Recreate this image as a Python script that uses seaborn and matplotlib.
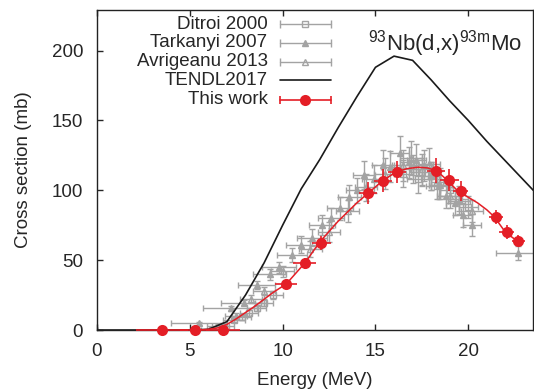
import pandas as pd
import matplotlib
matplotlib.use('Agg')
import matplotlib.pyplot as plt
import seaborn as sns
import numpy as np

# TENDL2017 evaluation
tendl_e = [0, 5.0, 6.0, 7.0, 8.0, 9.0, 10.0, 11.0, 12.0, 13.0, 14.0, 15.0, 16.0, 17.0, 18.0, 19.0, 20.0, 21.0, 22.0, 23.0, 23.5]
tendl_s = [0, 0, 0.5, 6, 25, 48, 75, 101, 122, 145, 167, 188, 196, 193, 179, 164, 150, 135, 121, 107, 100]

# this work
work_e = [3.48, 5.27, 6.79, 10.2, 11.18, 12.08, 14.6, 15.4, 16.17, 18.26, 18.98, 19.59, 21.49, 22.08, 22.69]
work_de = [1.4, 0.8, 0.9, 0.6, 0.6, 0.5, 0.5, 0.5, 0.5, 0.5, 0.5, 0.4, 0.4, 0.4, 0.35]
work_s = [0, 0, 0, 32.7, 47.8, 62.1, 98, 107, 113, 114, 107.5, 99.6, 81, 70, 64]
work_ds = [0, 0, 0, 3, 4, 5, 8, 8, 8, 9, 8, 7, 5, 5, 4]

# smooth fit through this work
fit_e = [5.5, 6.0, 6.5, 7.0, 7.5, 8.0, 8.5, 9.0, 9.5, 10.2, 11.2, 12.0, 13.0, 14.0, 14.7, 15.4, 16.1, 16.7, 17.3, 17.8, 18.3, 18.8, 19.4, 20.0, 20.5, 21.0, 21.4, 22.0, 22.6]
fit_s = [0, 0.5, 1.5, 4, 8, 12.5, 17, 22, 27, 33, 48, 63, 78, 91, 99, 107, 113, 115.5, 116.5, 116, 114, 108, 100, 95, 91, 86, 81, 70, 64]

# Ditroi 2000
dit_e = [6.2, 6.8, 7.4, 7.8, 8.2, 8.6, 9.0, 9.5, 16.5, 17.0, 17.5, 18.0, 18.5, 19.0, 19.5, 20.0, 17.3, 18.3]
dit_de = [0.6, 0.6, 0.6, 0.5, 0.5, 0.5, 0.5, 0.5, 0.5, 0.5, 0.5, 0.5, 0.5, 0.5, 0.5, 0.5, 0.6, 0.6]
dit_s = [0, 3, 7, 9, 12, 15.5, 19.6, 25, 112, 115, 113, 110, 106, 100, 94, 88, 108, 103]
dit_ds = [0.5, 1, 1.5, 1.5, 2, 2, 2.5, 3, 10, 10, 10, 10, 10, 9, 9, 8, 10, 9]

# Tarkanyi 2007
tar_e = [0, 5.5, 7.2, 7.9, 8.6, 9.3, 9.8, 10.5, 11.0, 11.6, 12.1, 12.6, 13.1, 13.6, 14.0, 14.4, 14.9, 15.4, 15.8, 16.3, 16.8, 17.2, 17.6, 18.0, 18.4, 18.8, 19.3, 19.7, 20.2, 22.7]
tar_de = [0, 1.5, 1.5, 1.2, 1.0, 0.9, 0.9, 0.8, 0.8, 0.8, 0.7, 0.7, 0.7, 0.6, 0.6, 0.6, 0.6, 0.6, 0.5, 0.5, 0.5, 0.5, 0.5, 0.5, 0.5, 0.5, 0.5, 0.5, 0.5, 1.2]
tar_s = [0, 4.8, 15.5, 19.6, 32, 40, 45, 54, 61, 66, 75, 80, 87, 95, 100, 111, 108, 118, 117, 127, 120, 122, 118, 110, 104, 96, 91, 82, 75, 55]
tar_ds = [0, 1, 2, 2, 3, 4, 4, 5, 6, 6, 7, 7, 8, 9, 9, 10, 10, 11, 11, 12, 11, 11, 11, 10, 10, 9, 9, 8, 8, 5]

# Avrigeanu 2013
avr_e = [6.5, 7.5, 8.3, 9.0, 10.0, 11.5, 12.5, 13.5, 14.5, 15.5, 16.5, 17.5, 18.5, 19.5, 20.2, 16.9, 17.9, 19.0]
avr_de = [0.6, 0.6, 0.6, 0.6, 0.6, 0.6, 0.6, 0.6, 0.6, 0.6, 0.6, 0.6, 0.6, 0.6, 0.6, 0.6, 0.6, 0.6]
avr_s = [3, 10, 22, 28, 42, 58, 70, 85, 102, 112, 118, 115, 104, 92, 85, 123, 119, 96]
avr_ds = [1, 2, 3, 3, 4, 6, 7, 8, 10, 11, 11, 11, 10, 9, 8, 12, 11, 9]

labels = ['Ditroi 2000', 'Tarkanyi 2007', 'Avrigeanu 2013', 'TENDL2017', 'This work']

sns.set_style('ticks')
plt.rcParams['font.family'] = ['Liberation Sans', 'DejaVu Sans']
plt.rcParams['mathtext.fontset'] = 'custom'
plt.rcParams['mathtext.rm'] = 'Liberation Sans'

gray = '#a3a3a3'
red = '#e41e26'
dark = '#1a1a1a'
fs = 13.5

fig = plt.figure(figsize=(5.34, 3.9), dpi=100)
ax = fig.add_axes([0.1816, 0.1538, 0.817, 0.8205])

ebkw = dict(ls='none', color=gray, ecolor=gray, elinewidth=1, capsize=2.5, capthick=1, markersize=4.5, zorder=2)
ax.errorbar(dit_e, dit_s, xerr=dit_de, yerr=dit_ds, marker='s', mfc='none', **ebkw)
ax.errorbar(avr_e, avr_s, xerr=avr_de, yerr=avr_ds, marker='^', mfc='none', **ebkw)
ax.errorbar(tar_e, tar_s, xerr=tar_de, yerr=tar_ds, marker='^', mfc=gray, **ebkw)

sns.lineplot(x=tendl_e, y=tendl_s, color=dark, lw=1.2, ax=ax, zorder=3)
sns.lineplot(x=fit_e, y=fit_s, color=red, lw=1.1, ax=ax, zorder=4)
ax.errorbar(work_e, work_s, xerr=work_de, yerr=work_ds, ls='none', marker='o', color=red, mew=0,
            ecolor=red, elinewidth=1.2, capsize=3, capthick=1.2, markersize=8, zorder=5, clip_on=False)

ax.set_xlim(0, 23.5)
ax.set_ylim(0, 229)
ax.set_xticks([0, 5, 10, 15, 20])
ax.set_yticks([0, 50, 100, 150, 200])
ax.tick_params(direction='in', top=True, right=False, labelsize=fs, length=4, width=1)
ax.tick_params(axis='x', pad=9)
ax.tick_params(axis='y', pad=10)
for s in ax.spines.values():
    s.set_linewidth(1)
    s.set_color('#222222')
ax.set_xlabel('Energy (MeV)', fontsize=fs, labelpad=9)
ax.set_ylabel('Cross section (mb)', fontsize=fs, labelpad=14)

ax.text(0.975, 0.945, r'$^{\mathrm{93}}$Nb(d,x)$^{\mathrm{93m}}$Mo', transform=ax.transAxes,
        ha='right', va='top', fontsize=16)

# legend drawn by hand: labels right-aligned, handles to the right (gnuplot style)
styles = [('s', 'none', gray, 4.5, 1.0), ('^', gray, gray, 4.5, 1.0), ('^', 'none', gray, 4.5, 1.0),
          (None, None, dark, 0, 1.2), ('o', red, red, 8, 1.2)]
ys = [0.956, 0.897, 0.838, 0.781, 0.719]
tx, hx0, hx1 = 0.391, 0.4188, 0.5355
for lab, (m, fc, col, ms, lw), y in zip(labels, styles, ys):
    ax.text(tx, y, lab, transform=ax.transAxes, ha='right', va='center', fontsize=fs)
    if m is None:
        ax.plot([hx0, hx1], [y, y], color=col, lw=lw, transform=ax.transAxes, clip_on=False)
        continue
    ax.plot([hx0, hx1], [y, y], color=col, lw=lw, marker='|', markersize=6, mew=lw,
            transform=ax.transAxes, clip_on=False, zorder=6)
    ax.plot([(hx0 + hx1) / 2], [y], ls='none', marker=m, mfc=fc, mec=col, markersize=ms,
            mew=0 if m == 'o' else 1, transform=ax.transAxes, clip_on=False, zorder=7)

fig.savefig('out.png', dpi=100)
